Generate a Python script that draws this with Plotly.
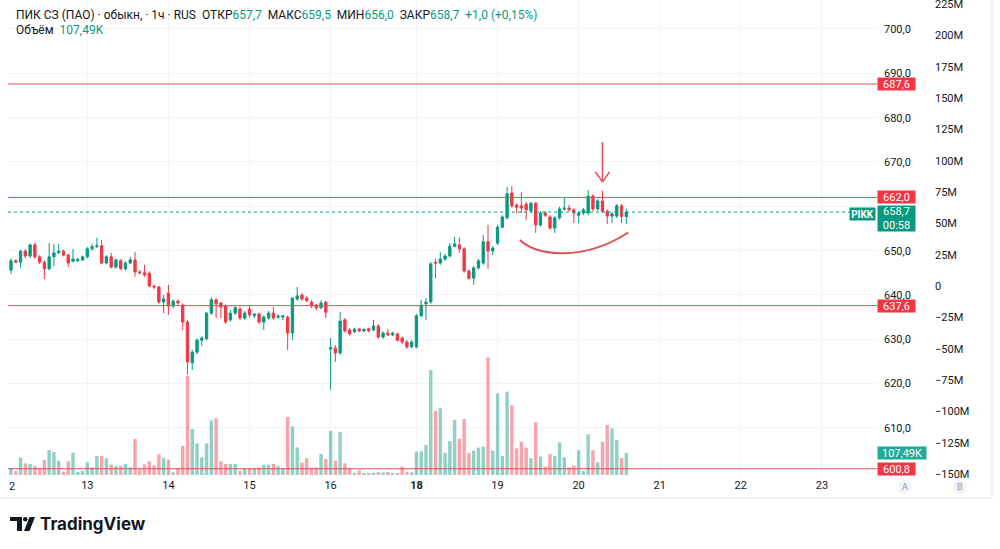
import plotly.graph_objects as go

# ---------------- data (hourly bars, 12..20 of the month) ----------------
opens = [645.6, 647.7, 647.4, 649.9, 648.8, 651.3, 648.6, 647.4, 645.9, 648.6,
         649.6, 649.9, 649.0, 647.6, 647.7, 647.9, 648.6, 650.4, 650.9, 651.1,
         647.2, 648.6, 646.3, 647.7, 645.9, 647.2, 647.9, 645.2, 645.0, 644.9,
         642.0, 641.8, 638.4, 640.4, 637.5, 638.6, 637.7, 633.9, 624.7, 627.1,
         629.8, 630.1, 635.9, 638.9, 638.2, 637.5, 634.4, 635.9, 636.8, 634.8,
         636.8, 635.3, 635.7, 633.9, 634.8, 635.9, 635.0, 635.0, 635.0, 631.4,
         639.1, 640.0, 639.3, 638.4, 637.7, 637.1, 638.4, 627.8, 628.0, 626.9,
         634.4, 632.1, 631.7, 632.3, 631.9, 632.4, 632.1, 633.0, 630.5, 631.4,
         631.0, 631.2, 630.3, 629.4, 628.3, 628.3, 635.3, 638.0, 638.4, 647.4,
         647.2, 648.1, 648.8, 651.0, 651.3, 650.4, 645.4, 643.8, 646.1, 647.2,
         652.0, 649.9, 651.7, 655.3, 657.4, 663.0, 660.3, 660.1, 660.5, 659.0,
         660.7, 655.8, 658.5, 657.6, 655.1, 657.4, 659.4, 659.6, 659.2, 658.0,
         658.5, 658.5, 662.3, 659.4, 661.2, 658.9, 657.8, 657.8, 660.1, 657.7]
highs = [648.3, 648.1, 650.2, 650.3, 651.6, 651.8, 649.0, 647.8, 651.7, 651.5,
         651.5, 650.2, 649.3, 650.4, 648.4, 648.9, 650.8, 651.6, 652.9, 652.4,
         649.0, 649.5, 648.2, 648.1, 647.6, 648.6, 649.7, 645.6, 646.8, 645.3,
         642.3, 642.1, 640.0, 642.3, 639.0, 639.0, 638.1, 634.3, 627.6, 630.2,
         630.7, 636.2, 639.5, 639.3, 638.4, 637.9, 636.6, 637.5, 637.3, 636.4,
         637.5, 635.9, 636.0, 635.4, 636.4, 637.3, 635.7, 635.5, 635.4, 639.5,
         641.8, 640.4, 639.8, 638.8, 638.0, 638.8, 638.7, 630.3, 628.7, 636.2,
         634.8, 632.6, 632.6, 632.6, 632.5, 632.6, 634.4, 633.4, 631.8, 632.3,
         631.7, 631.5, 630.6, 629.8, 629.8, 635.7, 638.9, 639.3, 647.4, 648.1,
         649.7, 649.2, 651.7, 653.1, 652.9, 650.8, 645.8, 646.5, 648.1, 653.5,
         655.8, 651.0, 655.8, 658.0, 664.4, 664.6, 660.7, 663.2, 661.0, 661.0,
         661.0, 658.9, 658.9, 658.0, 657.8, 659.9, 661.9, 660.3, 659.6, 658.9,
         659.6, 663.7, 662.8, 661.6, 663.5, 659.3, 658.7, 660.5, 660.5, 659.5]
lows = [644.7, 647.2, 646.1, 648.3, 648.3, 648.2, 647.0, 643.6, 645.6, 646.5,
        649.2, 648.7, 646.3, 647.5, 647.5, 647.7, 648.3, 650.0, 650.6, 647.0,
        646.9, 646.0, 645.9, 645.6, 645.5, 646.9, 644.1, 644.6, 644.1, 641.7,
        641.3, 638.0, 635.9, 635.5, 637.0, 637.8, 632.1, 622.0, 623.1, 626.6,
        628.5, 629.8, 635.5, 634.8, 634.8, 633.5, 634.0, 635.5, 634.4, 634.4,
        635.0, 634.8, 633.5, 632.1, 634.4, 634.4, 634.6, 634.3, 627.6, 629.8,
        638.7, 638.7, 638.4, 637.1, 636.6, 636.8, 634.8, 618.6, 624.9, 626.5,
        631.5, 630.8, 631.4, 631.6, 631.6, 631.6, 631.8, 630.1, 630.1, 630.8,
        630.7, 629.5, 628.9, 627.8, 628.0, 628.0, 635.0, 634.4, 638.0, 643.8,
        646.8, 647.7, 648.5, 650.7, 649.5, 645.0, 643.4, 642.3, 645.8, 646.8,
        645.9, 649.0, 651.3, 655.0, 657.0, 659.7, 658.5, 658.5, 656.9, 658.5,
        654.0, 655.4, 657.6, 654.7, 654.0, 657.0, 659.0, 658.9, 656.2, 656.2,
        658.0, 658.0, 658.9, 659.0, 658.5, 656.0, 656.2, 657.4, 656.2, 656.0]
closes = [647.7, 647.4, 649.9, 648.8, 651.3, 648.6, 647.4, 645.9, 648.6, 649.5,
          649.9, 649.0, 647.2, 648.1, 648.0, 648.6, 650.4, 650.9, 651.1, 647.2,
          648.6, 646.3, 647.9, 645.9, 647.2, 647.9, 645.2, 645.0, 644.5, 642.0,
          641.8, 638.4, 639.1, 637.5, 638.6, 638.2, 633.9, 624.9, 627.1, 629.8,
          630.3, 635.9, 638.9, 638.0, 637.3, 633.9, 635.9, 637.1, 634.8, 635.9,
          635.5, 635.7, 633.9, 635.0, 635.9, 634.8, 635.2, 635.3, 631.4, 639.3,
          639.8, 639.1, 638.7, 637.5, 637.1, 638.2, 636.1, 628.1, 626.9, 634.1,
          631.9, 631.2, 632.3, 631.9, 632.2, 631.9, 633.0, 630.5, 631.4, 631.0,
          631.4, 629.8, 629.4, 628.3, 629.4, 635.3, 637.7, 638.4, 647.0, 647.2,
          648.1, 648.8, 651.0, 651.5, 650.4, 645.4, 643.8, 646.1, 647.7, 652.0,
          649.9, 650.6, 655.3, 657.6, 662.8, 660.1, 659.8, 659.6, 659.2, 660.7,
          655.8, 658.5, 658.0, 655.1, 657.4, 659.4, 659.6, 659.2, 658.5, 658.5,
          659.2, 662.3, 659.4, 661.2, 658.9, 657.8, 658.3, 660.1, 657.7, 658.7]
volumes_k = [32.6, 19.5, 84.7, 57.0, 53.8, 44.0, 32.6, 73.3, 122.0, 112.0,
             70.0, 16.3, 66.8, 109.0, 14.7, 19.5, 61.9, 37.5, 92.9, 92.9,
             81.5, 50.5, 44.0, 44.0, 53.8, 37.5, 176.0, 27.7, 52.1, 66.8,
             47.2, 101.0, 83.1, 74.9, 13.0, 32.6, 141.7, 483.8, 224.8, 154.8,
             86.3, 154.8, 267.2, 276.9, 66.8, 53.8, 53.8, 53.8, 19.5, 32.6,
             32.6, 32.6, 37.5, 50.5, 50.5, 53.8, 42.4, 32.6, 283.4, 237.8,
             135.2, 60.0, 82.0, 36.0, 37.0, 102.6, 78.2, 215.0, 70.0, 210.0,
             57.0, 34.2, 11.4, 22.8, 9.8, 9.8, 11.4, 14.7, 13.0, 14.7,
             9.8, 9.8, 40.7, 14.7, 13.0, 114.0, 115.7, 146.6, 513.0, 312.8,
             325.8, 109.0, 166.0, 270.0, 177.6, 273.7, 107.5, 118.9, 133.6, 138.5,
             575.0, 118.9, 399.0, 92.9, 407.0, 340.5, 130.3, 162.9, 133.6, 81.5,
             257.4, 89.6, 40.7, 102.6, 92.9, 159.6, 86.3, 37.5, 45.6, 120.5,
             19.5, 198.7, 120.5, 61.9, 162.9, 244.4, 228.0, 171.0, 83.1, 107.49]

day_tick_index = [16, 33, 50, 67, 85, 102, 119, 136, 153, 170]
day_tick_text = ["13", "14", "15", "16", "<b>18</b>", "19", "20", "21", "22", "23"]
price_ticks = [610, 620, 630, 640, 650, 660, 670, 680, 690, 700]
price_tick_text = ["610,0", "620,0", "630,0", "640,0", "650,0", "", "670,0", "680,0", "690,0", "700,0"]
vol_axis_ticks = [-150, -125, -100, -75, -50, -25, 0, 25, 50, 75, 100, 125, 150, 175, 200, 225]
vol_axis_text = ["−150M", "−125M", "−100M", "−75M", "−50M", "−25M", "0", "25M", "50M", "75M",
                 "100M", "125M", "150M", "175M", "200M", "225M"]
level_lines = [687.6, 662.0, 637.6, 600.8]

# drawings (in bar index / price units)
arrow_bar, arrow_top, arrow_tip = 124, 674.5, 665.5
arc_path = "M 106.7,652.4 C 110,648.8 120,647.5 129.4,654.1"

GREEN = "#089981"
RED = "#f23645"
LINE_RED = "#e0505a"
TXT = "#131722"
GRID = "#f2f4f8"
FONT = "Roboto"

x = list(range(len(opens)))
vol_colors = ["rgba(8,153,129,0.45)" if c >= o else "rgba(242,54,69,0.45)"
              for o, c in zip(opens, closes)]

fig = go.Figure()
fig.add_trace(go.Bar(x=x, y=volumes_k, marker_color=vol_colors, marker_line_width=0,
                     width=0.72, yaxis="y", hoverinfo="skip", showlegend=False))
fig.add_trace(go.Candlestick(x=x, open=opens, high=highs, low=lows, close=closes,
                             yaxis="y2", whiskerwidth=0,
                             increasing=dict(line=dict(color=GREEN, width=1), fillcolor=GREEN),
                             decreasing=dict(line=dict(color=RED, width=1), fillcolor=RED),
                             hoverinfo="skip", showlegend=False))
fig.add_trace(go.Scatter(x=[None], y=[None], yaxis="y3", hoverinfo="skip", showlegend=False))

W, H = 1000, 549
ML, MR, MT, MB = 8, 8, 0, 72
PW, PH = W - ML - MR, H - MT - MB


def px(xp):
    return (xp - ML) / PW


def py(yp):
    return (MT + PH - yp) / PH


shapes = []
for lv in level_lines:
    shapes.append(dict(type="line", xref="x domain", yref="y2", x0=0, x1=1, y0=lv, y1=lv,
                       line=dict(color=LINE_RED, width=1)))
shapes.append(dict(type="line", xref="x domain", yref="y2", x0=0, x1=1,
                   y0=closes[-1], y1=closes[-1], line=dict(color=GREEN, width=1, dash="dot")))
# arrow
shapes.append(dict(type="line", xref="x", yref="y2", x0=arrow_bar, x1=arrow_bar,
                   y0=arrow_top, y1=arrow_tip, line=dict(color=LINE_RED, width=1.5)))
for dx in (-1.5, 1.5):
    shapes.append(dict(type="line", xref="x", yref="y2", x0=arrow_bar + dx, x1=arrow_bar,
                       y0=arrow_tip + 2.3, y1=arrow_tip, line=dict(color=LINE_RED, width=1.5)))
shapes.append(dict(type="path", xref="x", yref="y2", path=arc_path,
                   line=dict(color=LINE_RED, width=2)))
# frame lines
shapes.append(dict(type="line", xref="paper", yref="paper", x0=px(0), x1=px(992),
                   y0=py(498), y1=py(498), line=dict(color="#e0e3eb", width=1)))
shapes.append(dict(type="line", xref="paper", yref="paper", x0=px(992), x1=px(992),
                   y0=py(0), y1=py(498), line=dict(color="#e0e3eb", width=1)))
# A / B buttons
for cx in (905, 960):
    shapes.append(dict(type="circle", xref="paper", yref="paper", x0=px(cx - 7), x1=px(cx + 7),
                       y0=py(494), y1=py(480), fillcolor="#f0f3fa", line=dict(width=0)))
# TradingView logo glyph
shapes += [
    dict(type="rect", xref="paper", yref="paper", x0=px(10), x1=px(22), y0=py(521), y1=py(517),
         fillcolor=TXT, line=dict(width=0)),
    dict(type="rect", xref="paper", yref="paper", x0=px(17), x1=px(22), y0=py(531), y1=py(517),
         fillcolor=TXT, line=dict(width=0)),
    dict(type="circle", xref="paper", yref="paper", x0=px(23), x1=px(27.5), y0=py(521.5), y1=py(517),
         fillcolor=TXT, line=dict(width=0)),
    dict(type="path", xref="paper", yref="paper",
         path=f"M {px(24)},{py(531)} L {px(29.5)},{py(531)} L {px(35)},{py(517)} L {px(29.5)},{py(517)} Z",
         fillcolor=TXT, line=dict(width=0)),
]


def fmt(v, d=1):
    return f"{v:.{d}f}".replace(".", ",")


o, h, l, c = opens[-1], highs[-1], lows[-1], closes[-1]
chg = c - closes[-2]
pct = chg / closes[-2] * 100
sp = "\u00a0\u00a0"
gs = f"<span style='color:{GREEN}'>"
header = (f"ПИК СЗ (ПАО) · обыкн. · 1ч · RUS{sp}ОТКР{gs}{fmt(o)}</span>{sp}МАКС{gs}{fmt(h)}</span>"
          f"{sp}МИН{gs}{fmt(l)}</span>{sp}ЗАКР{gs}{fmt(c)}</span>{sp}{gs}{chg:+.1f}".replace(".", ",")
          + f" ({'+' if pct >= 0 else ''}{fmt(pct, 2)}%)</span>")
vol_label = fmt(volumes_k[-1], 2) + "K"

annotations = [
    dict(xref="paper", yref="paper", x=px(14), y=py(15), xanchor="left", yanchor="middle",
         text=header, showarrow=False, font=dict(family=FONT, size=12, color=TXT)),
    dict(xref="paper", yref="paper", x=px(14), y=py(29.5), xanchor="left", yanchor="middle",
         text=f"Объём{sp}{gs}{vol_label}</span>", showarrow=False,
         font=dict(family=FONT, size=12, color=TXT)),
    dict(xref="paper", yref="paper", x=px(38), y=py(524), xanchor="left", yanchor="middle",
         text="<b>TradingView</b>", showarrow=False, font=dict(family="Inter", size=17, color=TXT)),
    dict(xref="paper", yref="paper", x=px(905), y=py(487), xanchor="center", yanchor="middle",
         text="A", showarrow=False, font=dict(family=FONT, size=9, color="#9598a1")),
    dict(xref="paper", yref="paper", x=px(960), y=py(487), xanchor="center", yanchor="middle",
         text="B", showarrow=False, font=dict(family=FONT, size=9, color="#9598a1")),
    # the "12" day label, cut by the left edge of the chart
    dict(xref="paper", yref="paper", x=px(7), y=py(487), xanchor="left", yanchor="middle",
         text="2", showarrow=False, font=dict(family=FONT, size=11, color=TXT)),
]
for lv in level_lines:
    annotations.append(dict(xref="x domain", yref="y2", x=1, y=lv, xanchor="left", yanchor="middle",
                            text=fmt(lv), showarrow=False, bgcolor=RED, width=35, height=10,
                            borderpad=1, font=dict(family=FONT, size=11, color="white")))
annotations.append(dict(xref="x domain", yref="y2", x=1, y=closes[-1], xanchor="left", yanchor="middle",
                        yshift=-6, text=f"{fmt(closes[-1])}<br>00:58", showarrow=False, bgcolor=GREEN,
                        width=35, height=23, borderpad=1, font=dict(family=FONT, size=11, color="white")))
annotations.append(dict(xref="x domain", yref="y2", x=1, y=closes[-1], xanchor="right", yanchor="middle",
                        xshift=-1, yshift=-2, text="<b>PIKK</b>", showarrow=False, bgcolor=GREEN,
                        width=23, height=10, borderpad=1, font=dict(family=FONT, size=10, color="white")))
annotations.append(dict(xref="x domain", yref="y", x=1, y=volumes_k[-1], xanchor="left", yanchor="middle",
                        text=vol_label, showarrow=False, bgcolor="#22ab94", width=46, height=10,
                        borderpad=1, font=dict(family=FONT, size=11, color="white")))

x_left = (8 - 11) / 4.77
x_right = (877 - 11) / 4.77
fig.update_layout(
    width=W, height=H, autosize=False,
    margin=dict(l=ML, r=MR, t=MT, b=MB, autoexpand=False),
    paper_bgcolor="white", plot_bgcolor="white",
    separators=", ",
    font=dict(family=FONT, size=11, color=TXT),
    showlegend=False,
    xaxis=dict(domain=[0, px(877)], range=[x_left, x_right], tickvals=day_tick_index,
               ticktext=day_tick_text, showgrid=True, gridcolor=GRID, zeroline=False,
               showline=False, ticks="", rangeslider=dict(visible=False), automargin=False,
               tickfont=dict(family=FONT, size=11, color=TXT), fixedrange=True),
    yaxis=dict(range=[-2 * 4.886, 475 * 4.886], visible=False, fixedrange=True, automargin=False),
    yaxis2=dict(overlaying="y", side="right", anchor="x", range=[598.94, 706.54],
                tickvals=price_ticks, ticktext=price_tick_text, showgrid=True, gridcolor=GRID,
                zeroline=False, showline=False, ticks="", ticklabelstandoff=6, automargin=False,
                tickfont=dict(family=FONT, size=11, color=TXT)),
    yaxis3=dict(overlaying="y", side="right", anchor="free", position=px(934),
                range=[-152.4, 228.2], tickvals=vol_axis_ticks, ticktext=vol_axis_text,
                showgrid=False, zeroline=False, showline=False, ticks="",
                ticklabeloverflow="allow", automargin=False,
                tickfont=dict(family=FONT, size=11, color=TXT)),
    shapes=shapes,
    annotations=annotations,
)

fig.write_html("out.html")
